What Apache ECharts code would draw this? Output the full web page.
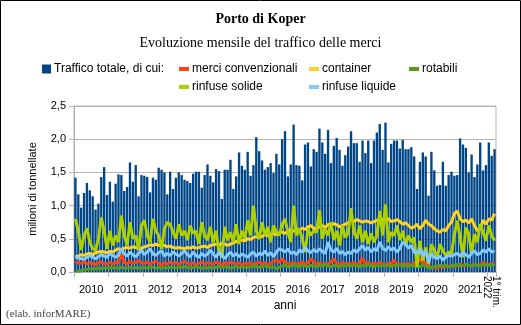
<!DOCTYPE html>
<html><head><meta charset="utf-8">
<script src="https://cdn.jsdelivr.net/npm/echarts@6/dist/echarts.min.js"></script>
<style>html,body{margin:0;padding:0;background:#fff}#c{width:521px;height:325px}</style>
</head><body><div id="c"></div>
<script>
// ---- DATA ----
const yearLabels = ['2010','2011','2012','2013','2014','2015','2016','2017','2018','2019','2020','2021'];
const lastLabel = '1° trim.\n2022';
const monthsInLastYear = 3;
const seriesNames = ['Traffico totale, di cui:','merci convenzionali','container','rotabili','rinfuse solide','rinfuse liquide'];

// milioni di tonnellate, monthly Jan 2010 - Mar 2022
const totale = [
 1.42,1.17,0.97,1.19,1.34,1.23,1.14,0.94,1.03,1.43,1.58,1.16,
 1.36,1.06,1.33,1.47,1.46,1.22,1.28,1.65,1.36,1.61,1.14,1.46,
 1.45,1.43,1.20,1.42,1.39,1.57,1.54,1.50,1.17,1.51,1.25,1.42,
 1.50,1.46,1.39,1.37,1.34,1.48,1.51,1.51,1.27,1.46,1.62,1.45,
 1.35,1.55,1.52,1.10,1.54,1.54,1.69,1.25,1.44,1.80,1.60,1.54,
 1.81,1.45,1.61,2.03,1.82,1.68,1.54,1.58,1.64,1.49,1.78,1.62,
 2.00,2.12,1.44,1.62,2.22,1.61,1.60,1.38,1.92,1.95,1.59,1.85,
 1.81,2.16,1.95,1.78,2.14,1.64,1.90,2.02,1.84,1.60,1.76,1.89,
 2.12,1.94,1.94,1.66,1.98,1.79,1.98,1.64,1.98,2.10,2.23,1.84,
 2.25,1.65,1.93,1.98,1.98,1.86,1.99,1.85,1.85,1.88,1.74,1.25,
 1.66,1.80,1.74,1.15,1.81,1.53,1.30,1.31,1.66,1.30,1.46,1.51,
 1.45,1.46,2.01,1.92,1.87,1.50,1.77,1.43,1.62,1.95,1.53,1.61,
 1.95,1.75,1.85
];
const merciConv = [
 0.16,0.14,0.13,0.15,0.12,0.14,0.13,0.11,0.14,0.15,0.13,0.12,
 0.14,0.12,0.15,0.13,0.27,0.14,0.12,0.16,0.13,0.15,0.17,0.14,
 0.13,0.15,0.12,0.14,0.16,0.13,0.11,0.14,0.12,0.15,0.13,0.14,
 0.12,0.14,0.16,0.13,0.12,0.14,0.11,0.13,0.15,0.12,0.14,0.13,
 0.12,0.15,0.13,0.11,0.14,0.12,0.15,0.13,0.12,0.14,0.11,0.13,
 0.12,0.14,0.11,0.13,0.15,0.12,0.14,0.11,0.13,0.16,0.18,0.14,
 0.20,0.15,0.13,0.12,0.14,0.11,0.13,0.15,0.12,0.14,0.20,0.15,
 0.12,0.14,0.11,0.13,0.12,0.15,0.20,0.13,0.11,0.14,0.12,0.13,
 0.12,0.14,0.11,0.13,0.21,0.12,0.14,0.11,0.13,0.12,0.14,0.12,
 0.11,0.13,0.12,0.18,0.12,0.10,0.13,0.11,0.12,0.10,0.14,0.12,
 0.20,0.12,0.15,0.09,0.07,0.08,0.06,0.08,0.07,0.09,0.08,0.10,
 0.08,0.10,0.12,0.09,0.11,0.10,0.09,0.12,0.10,0.11,0.14,0.12,
 0.10,0.13,0.12
];
const container = [
 0.23,0.24,0.26,0.25,0.27,0.28,0.26,0.29,0.30,0.31,0.30,0.29,
 0.31,0.30,0.33,0.35,0.34,0.36,0.37,0.36,0.38,0.37,0.35,0.36,
 0.38,0.39,0.41,0.40,0.42,0.40,0.41,0.40,0.38,0.39,0.37,0.36,
 0.37,0.36,0.35,0.37,0.36,0.38,0.36,0.37,0.38,0.39,0.37,0.40,
 0.41,0.42,0.41,0.43,0.42,0.40,0.42,0.44,0.46,0.47,0.48,0.47,
 0.50,0.49,0.52,0.53,0.51,0.54,0.56,0.55,0.57,0.58,0.56,0.59,
 0.60,0.58,0.62,0.63,0.61,0.65,0.63,0.66,0.64,0.68,0.70,0.66,
 0.65,0.68,0.70,0.67,0.72,0.70,0.73,0.71,0.68,0.70,0.72,0.74,
 0.78,0.76,0.79,0.77,0.75,0.77,0.76,0.74,0.76,0.78,0.76,0.79,
 0.82,0.80,0.76,0.77,0.79,0.76,0.72,0.74,0.70,0.66,0.68,0.72,
 0.65,0.70,0.78,0.72,0.70,0.65,0.62,0.60,0.64,0.62,0.70,0.75,
 0.88,0.92,0.80,0.76,0.78,0.74,0.80,0.70,0.62,0.65,0.78,0.72,
 0.80,0.78,0.88
];
const rotabili = [
 0.01,0.01,0.02,0.03,0.04,0.05,0.05,0.05,0.06,0.05,0.06,0.06,
 0.06,0.06,0.07,0.06,0.07,0.06,0.06,0.07,0.06,0.07,0.06,0.06,
 0.07,0.06,0.07,0.07,0.06,0.07,0.06,0.07,0.06,0.07,0.07,0.06,
 0.07,0.07,0.08,0.07,0.06,0.07,0.08,0.07,0.06,0.07,0.06,0.07,
 0.06,0.07,0.08,0.07,0.08,0.07,0.06,0.07,0.08,0.07,0.08,0.07,
 0.07,0.08,0.09,0.08,0.07,0.08,0.09,0.08,0.07,0.08,0.05,0.07,
 0.09,0.10,0.08,0.09,0.10,0.09,0.08,0.10,0.09,0.08,0.10,0.09,
 0.08,0.10,0.09,0.11,0.09,0.08,0.10,0.09,0.08,0.10,0.09,0.10,
 0.09,0.10,0.09,0.08,0.10,0.09,0.11,0.09,0.08,0.10,0.09,0.10,
 0.09,0.10,0.08,0.10,0.09,0.11,0.09,0.10,0.08,0.10,0.09,0.11,
 0.08,0.10,0.09,0.07,0.06,0.08,0.09,0.10,0.09,0.10,0.08,0.09,
 0.10,0.11,0.09,0.10,0.12,0.10,0.09,0.11,0.10,0.09,0.11,0.10,
 0.11,0.10,0.12
];
const rinfuseSolide = [
 0.80,0.62,0.33,0.55,0.66,0.45,0.35,0.33,0.50,0.82,0.62,0.35,
 0.62,0.40,0.55,0.45,0.85,0.55,0.40,0.75,0.50,0.55,0.35,0.70,
 0.78,0.55,0.45,0.80,0.62,0.55,0.35,0.65,0.75,0.72,0.60,0.50,
 0.72,0.55,0.62,0.48,0.70,0.58,0.62,0.42,0.75,0.55,0.48,0.68,
 0.45,0.62,0.30,0.22,0.68,0.48,0.60,0.45,0.72,0.42,0.62,0.50,
 0.78,0.55,1.00,0.62,0.50,0.75,0.55,0.68,0.45,0.70,0.60,0.55,
 0.72,0.80,0.60,0.45,1.00,0.55,0.65,0.50,0.30,0.65,0.55,0.62,
 0.60,0.93,0.50,0.65,0.55,0.75,0.48,0.62,0.40,0.70,0.52,0.58,
 0.96,0.60,0.50,0.70,0.45,0.62,0.42,0.58,0.45,0.55,0.92,0.55,
 1.02,0.45,0.60,0.55,0.70,0.48,0.62,0.40,0.55,0.45,0.52,0.07,
 0.47,0.17,0.37,0.12,0.42,0.32,0.22,0.42,0.32,0.25,0.30,0.28,
 0.57,0.77,0.52,0.22,0.67,0.57,0.27,0.57,0.45,0.72,0.60,0.47,
 0.70,0.55,0.47
];
const rinfuseLiquide = [
 0.23,0.21,0.20,0.19,0.22,0.25,0.22,0.20,0.23,0.26,0.24,0.22,
 0.28,0.25,0.22,0.25,0.35,0.27,0.24,0.30,0.26,0.23,0.28,0.33,
 0.26,0.30,0.35,0.27,0.25,0.29,0.32,0.24,0.28,0.25,0.30,0.27,
 0.24,0.28,0.32,0.26,0.23,0.30,0.25,0.22,0.28,0.24,0.27,0.33,
 0.27,0.22,0.30,0.25,0.20,0.26,0.30,0.24,0.28,0.23,0.27,0.25,
 0.22,0.27,0.30,0.24,0.28,0.26,0.32,0.25,0.29,0.23,0.30,0.35,
 0.33,0.30,0.35,0.28,0.30,0.26,0.33,0.30,0.37,0.32,0.29,0.34,
 0.30,0.35,0.31,0.28,0.45,0.33,0.30,0.36,0.28,0.31,0.26,0.30,
 0.28,0.33,0.30,0.35,0.40,0.33,0.37,0.30,0.35,0.32,0.45,0.36,
 0.32,0.38,0.33,0.36,0.30,0.35,0.45,0.42,0.36,0.40,0.30,0.28,
 0.35,0.25,0.32,0.15,0.28,0.22,0.20,0.24,0.18,0.22,0.25,0.24,
 0.26,0.28,0.24,0.30,0.26,0.22,0.28,0.32,0.26,0.28,0.33,0.30,
 0.35,0.30,0.32
];
const yTicks = [0, 0.5, 1.0, 1.5, 2.0, 2.5];

// ---- BUILD ----
const months = [];
yearLabels.forEach(y => { for (let m = 1; m <= 12; m++) months.push(y + '-' + m); });
for (let m = 1; m <= monthsInLastYear; m++) months.push('2022-' + m);
const N = months.length;
const yearCenters = yearLabels.map((y, i) => i * 12 + 6);
const lastCenter = yearLabels.length * 12 + monthsInLastYear / 2;

const colors = ['#004586','#ff420e','#ffd320','#579d1c','#aecf00','#83caff'];
const sans = 'Liberation Sans, Arial, sans-serif';
const serif = 'Liberation Serif, Times New Roman, serif';

const legendPos = [
  {left: 42, top: 63}, {left: 179, top: 63}, {left: 309, top: 63}, {left: 409, top: 63},
  {left: 179, top: 81}, {left: 309, top: 81}
];
const legends = seriesNames.map((n, i) => ({
  data: [n], left: legendPos[i].left, top: legendPos[i].top,
  icon: 'rect', itemWidth: i === 0 ? 9 : 10, itemHeight: i === 0 ? 9 : 4, itemGap: 0,
  padding: 0, selectedMode: false,
  textStyle: {fontFamily: sans, fontSize: 12, color: '#000', padding: [0,0,0,-2]}
}));

const lineData = [merciConv, container, rotabili, rinfuseSolide, rinfuseLiquide];
const series = [{
  name: seriesNames[0], type: 'bar', data: totale, xAxisIndex: 0,
  itemStyle: {color: colors[0]}, barCategoryGap: '18%'
}].concat(lineData.map((d, i) => ({
  name: seriesNames[i + 1], type: 'line', data: d, xAxisIndex: 0,
  symbol: 'none', lineStyle: {width: 3, color: colors[i + 1]}, itemStyle: {color: colors[i + 1]}
})));

const chart = echarts.init(document.getElementById('c'), null, {renderer: 'canvas'});
chart.setOption({
  animation: false,
  backgroundColor: '#fff',
  title: [
    {text: 'Porto di Koper', left: 'center', top: 12, padding: 0,
     textStyle: {fontFamily: serif, fontWeight: 'bold', fontSize: 14, color: '#000'}},
    {text: 'Evoluzione mensile del traffico delle merci', left: 'center', top: 36, padding: 0,
     textStyle: {fontFamily: serif, fontWeight: 'normal', fontSize: 14, color: '#000'}}
  ],
  legend: legends,
  grid: {left: 74, right: 25, top: 106, bottom: 53, show: true, borderColor: '#b3b3b3', borderWidth: 1, containLabel: false},
  xAxis: [
    {type: 'category', data: months, boundaryGap: true,
     axisLine: {show: true, lineStyle: {color: '#b3b3b3'}},
     axisTick: {show: true, length: 5, interval: (i) => i % 12 === 0, lineStyle: {color: '#b3b3b3'}},
     axisLabel: {show: false}, splitLine: {show: false}},
    {type: 'value', min: 0, max: N, position: 'bottom',
     axisLine: {show: false}, axisTick: {show: false}, splitLine: {show: false},
     axisLabel: {show: true, customValues: yearCenters, margin: 12,
       formatter: (v) => yearLabels[Math.round((v - 6) / 12)],
       fontFamily: sans, fontSize: 11, color: '#000'},
     name: 'anni', nameLocation: 'middle', nameGap: 27,
     nameTextStyle: {fontFamily: sans, fontSize: 12, color: '#000'}},
    {type: 'value', min: 0, max: N, position: 'bottom',
     axisLine: {show: false}, axisTick: {show: false}, splitLine: {show: false},
     axisLabel: {show: true, customValues: [lastCenter], rotate: -90, margin: 4,
       formatter: () => lastLabel, lineHeight: 9,
       fontFamily: sans, fontSize: 10, color: '#000'}}
  ],
  yAxis: {
    type: 'value', min: yTicks[0], max: yTicks[yTicks.length - 1], interval: 0.5,
    axisLine: {show: true, lineStyle: {color: '#b3b3b3'}},
    axisTick: {show: true, length: 5, lineStyle: {color: '#b3b3b3'}},
    splitLine: {show: true, lineStyle: {color: '#b3b3b3', width: 1}},
    axisLabel: {formatter: (v) => v.toFixed(1).replace('.', ','), fontFamily: sans, fontSize: 11, color: '#000', margin: 8},
    name: 'milioni di tonnellate', nameLocation: 'middle', nameGap: 36,
    nameTextStyle: {fontFamily: sans, fontSize: 11, color: '#000'}
  },
  graphic: [
    {type: 'rect', shape: {x: 0.5, y: 0.5, width: 520, height: 324}, style: {fill: 'none', stroke: '#000', lineWidth: 1}, silent: true},
    {type: 'text', left: 6, top: 309, style: {text: '(elab. inforMARE)', font: '11px ' + serif, fill: '#444'}}
  ],
  series: series
});
</script></body></html>
